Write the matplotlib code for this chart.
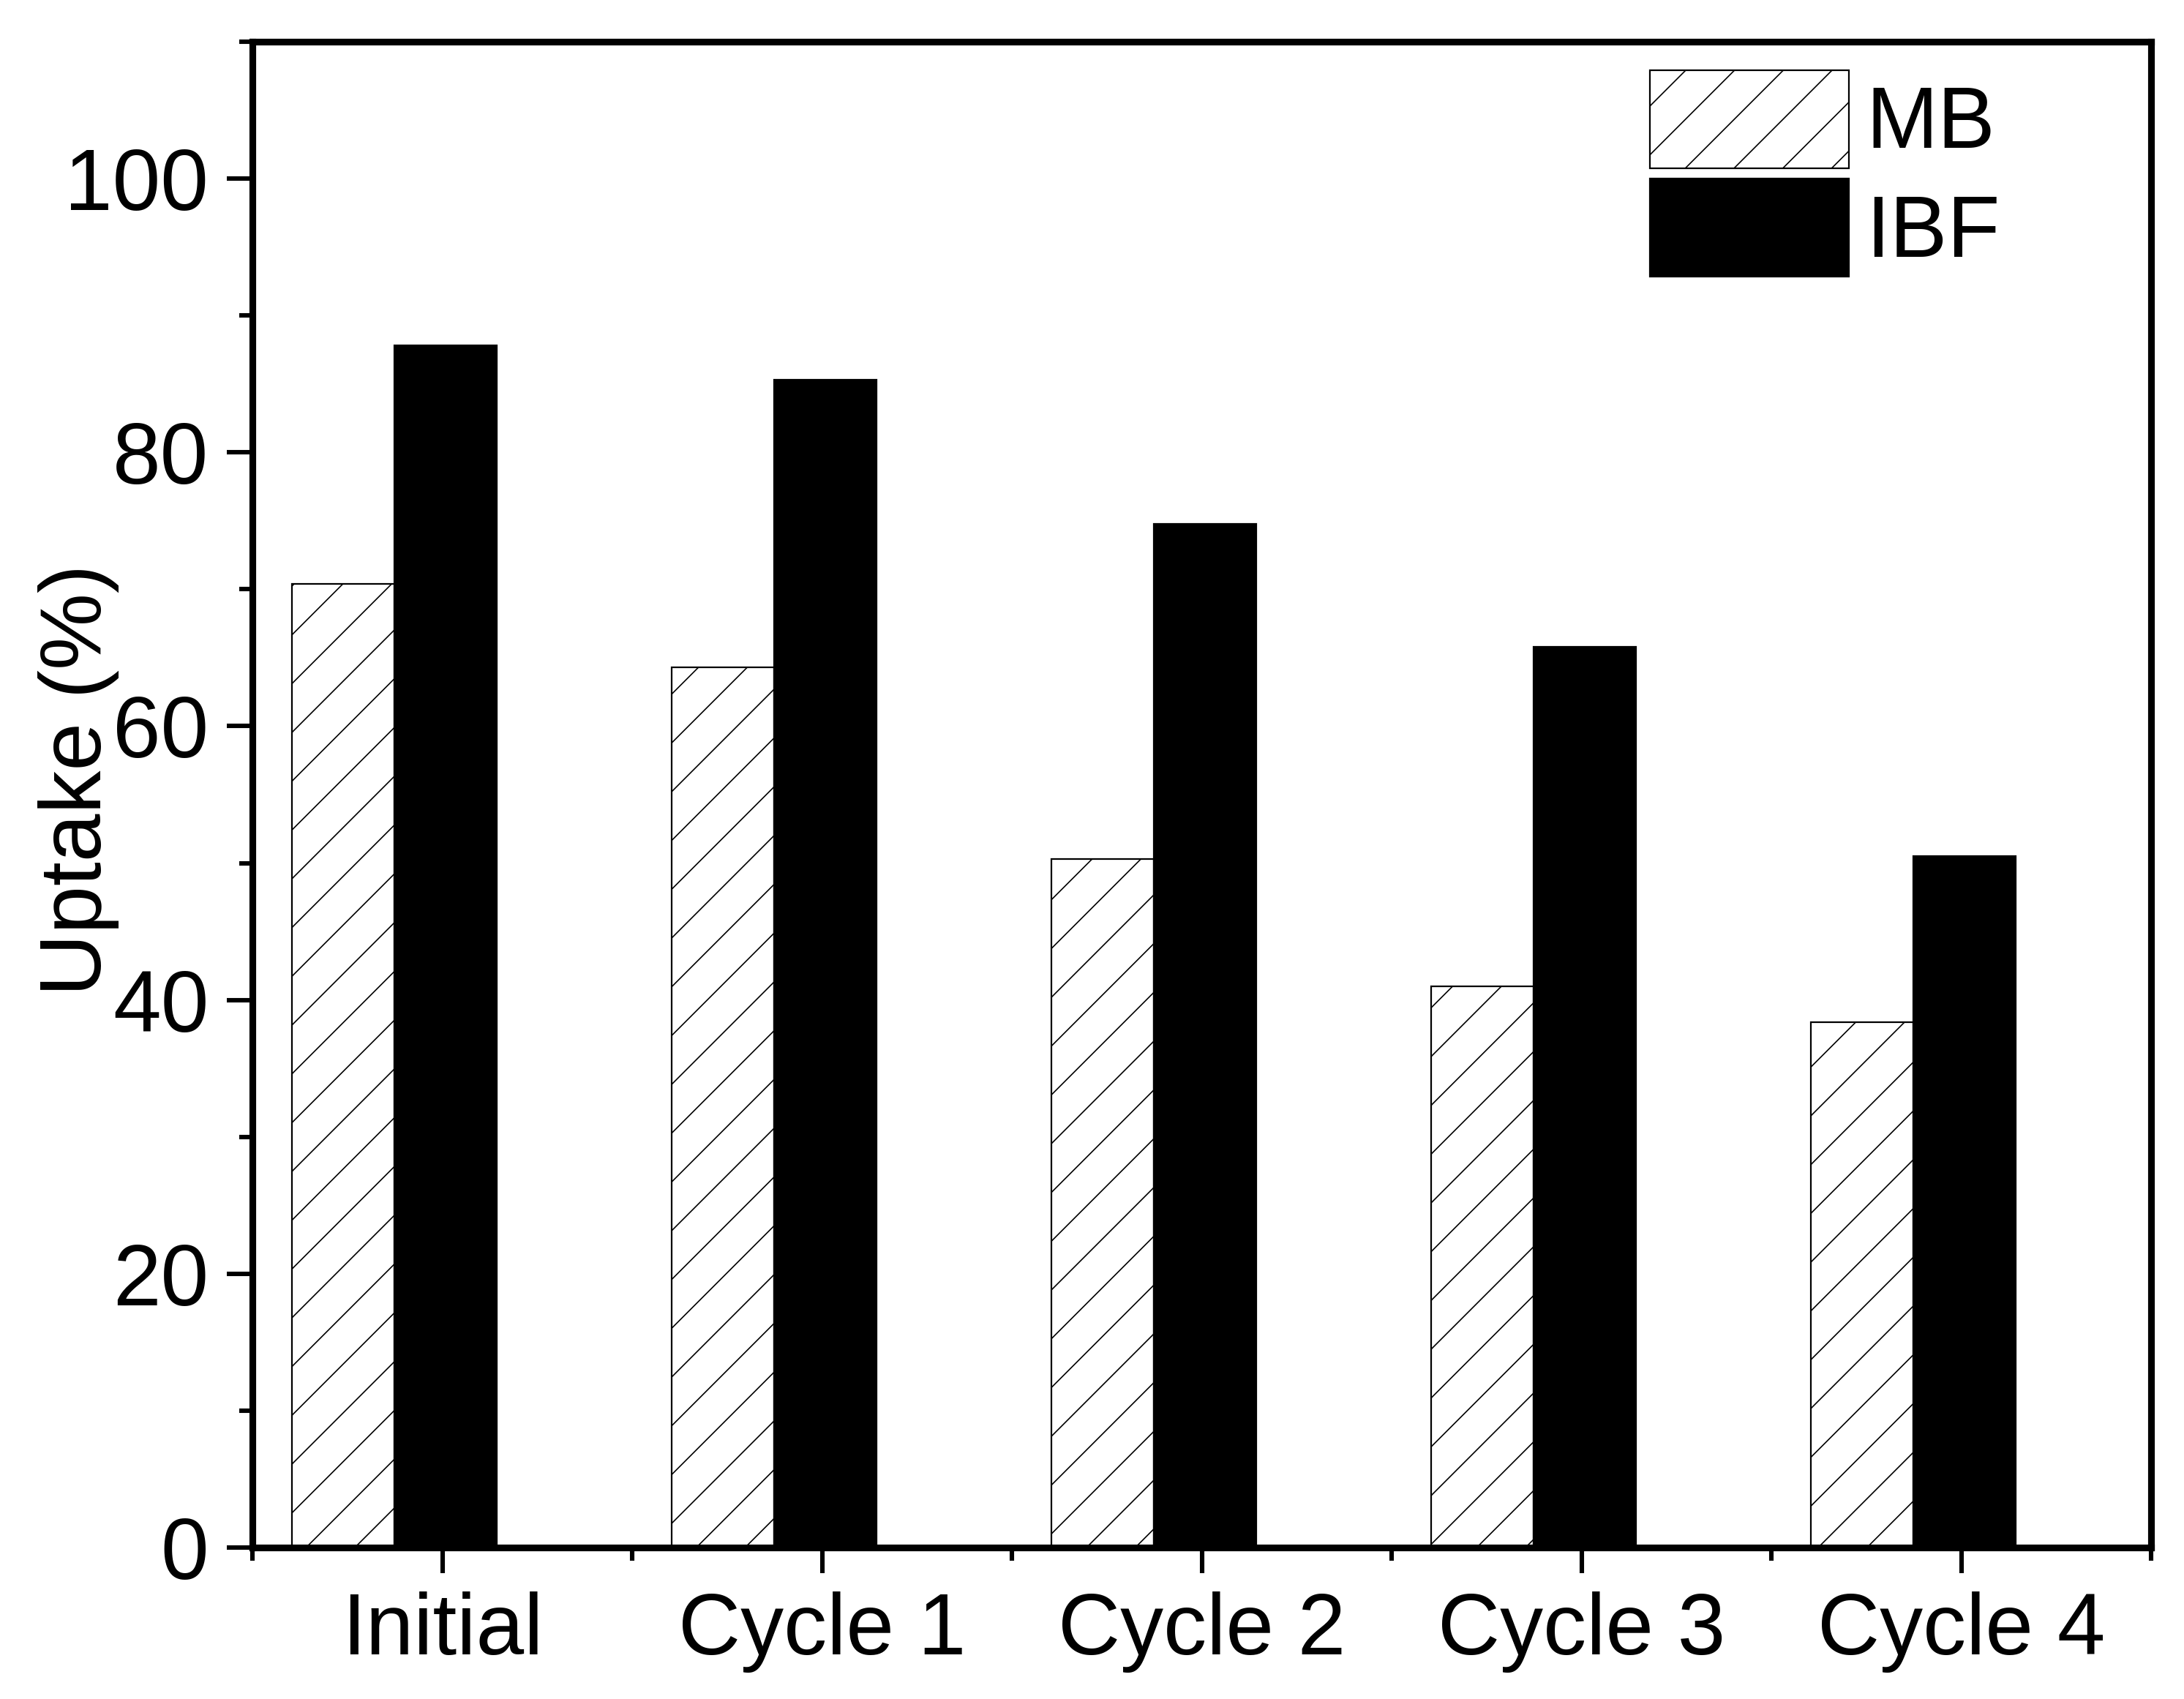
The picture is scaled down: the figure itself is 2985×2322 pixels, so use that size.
# Uptake of MB and IBF over regeneration cycles

import matplotlib
matplotlib.use("Agg")
import matplotlib.pyplot as plt
import numpy as np
from matplotlib.ticker import MultipleLocator, FixedLocator

plt.rcParams['font.family'] = ['Liberation Sans', 'DejaVu Sans']
plt.rcParams['hatch.linewidth'] = 0.6

cycles = ["Initial", "Cycle 1", "Cycle 2", "Cycle 3", "Cycle 4"]
mb_uptake = [70.4, 64.3, 50.3, 41.0, 38.4]
ibf_uptake = [87.8, 85.3, 74.8, 65.8, 50.5]

fs = 42.5
x = np.arange(len(cycles))
w = 0.27

fig = plt.figure(figsize=(14.925, 11.61), dpi=200)
ax = fig.add_axes([0.1156, 0.0891, 0.985 - 0.1156, 0.9755 - 0.0891])

ax.bar(x - 0.262, mb_uptake, w, facecolor="white", edgecolor="black",
       linewidth=0.8, hatch="/", label="MB")
ax.bar(x + 0.008, ibf_uptake, w, facecolor="black", edgecolor="black",
       linewidth=0.8, label="IBF")

ax.set_xlim(-0.5, 4.5)
ax.set_ylim(0, 110)

ax.set_xticks(x)
ax.set_xticklabels(cycles, fontsize=fs)
ax.xaxis.set_minor_locator(FixedLocator(np.arange(-0.5, 4.6, 1.0)))
ax.yaxis.set_major_locator(MultipleLocator(20))
ax.yaxis.set_minor_locator(MultipleLocator(10))
ax.tick_params(axis="y", labelsize=fs)

ax.tick_params(which="major", direction="out", length=12.5, width=2.2, pad=9)
ax.tick_params(which="minor", direction="out", length=6.5, width=2.2)
ax.tick_params(top=False, right=False, which="both")

for s in ax.spines.values():
    s.set_linewidth(3.3)

ax.set_ylabel("Uptake (%)", fontsize=fs)
ax.yaxis.set_label_coords(-0.07, 0.51)

ax.legend(loc="upper left", bbox_to_anchor=(0.736, 0.981), frameon=False,
          fontsize=fs, handlelength=2.3, handleheight=1.37,
          labelspacing=0.12, handletextpad=0.2, borderpad=0, borderaxespad=0)

fig.savefig("out.png", dpi=200)
